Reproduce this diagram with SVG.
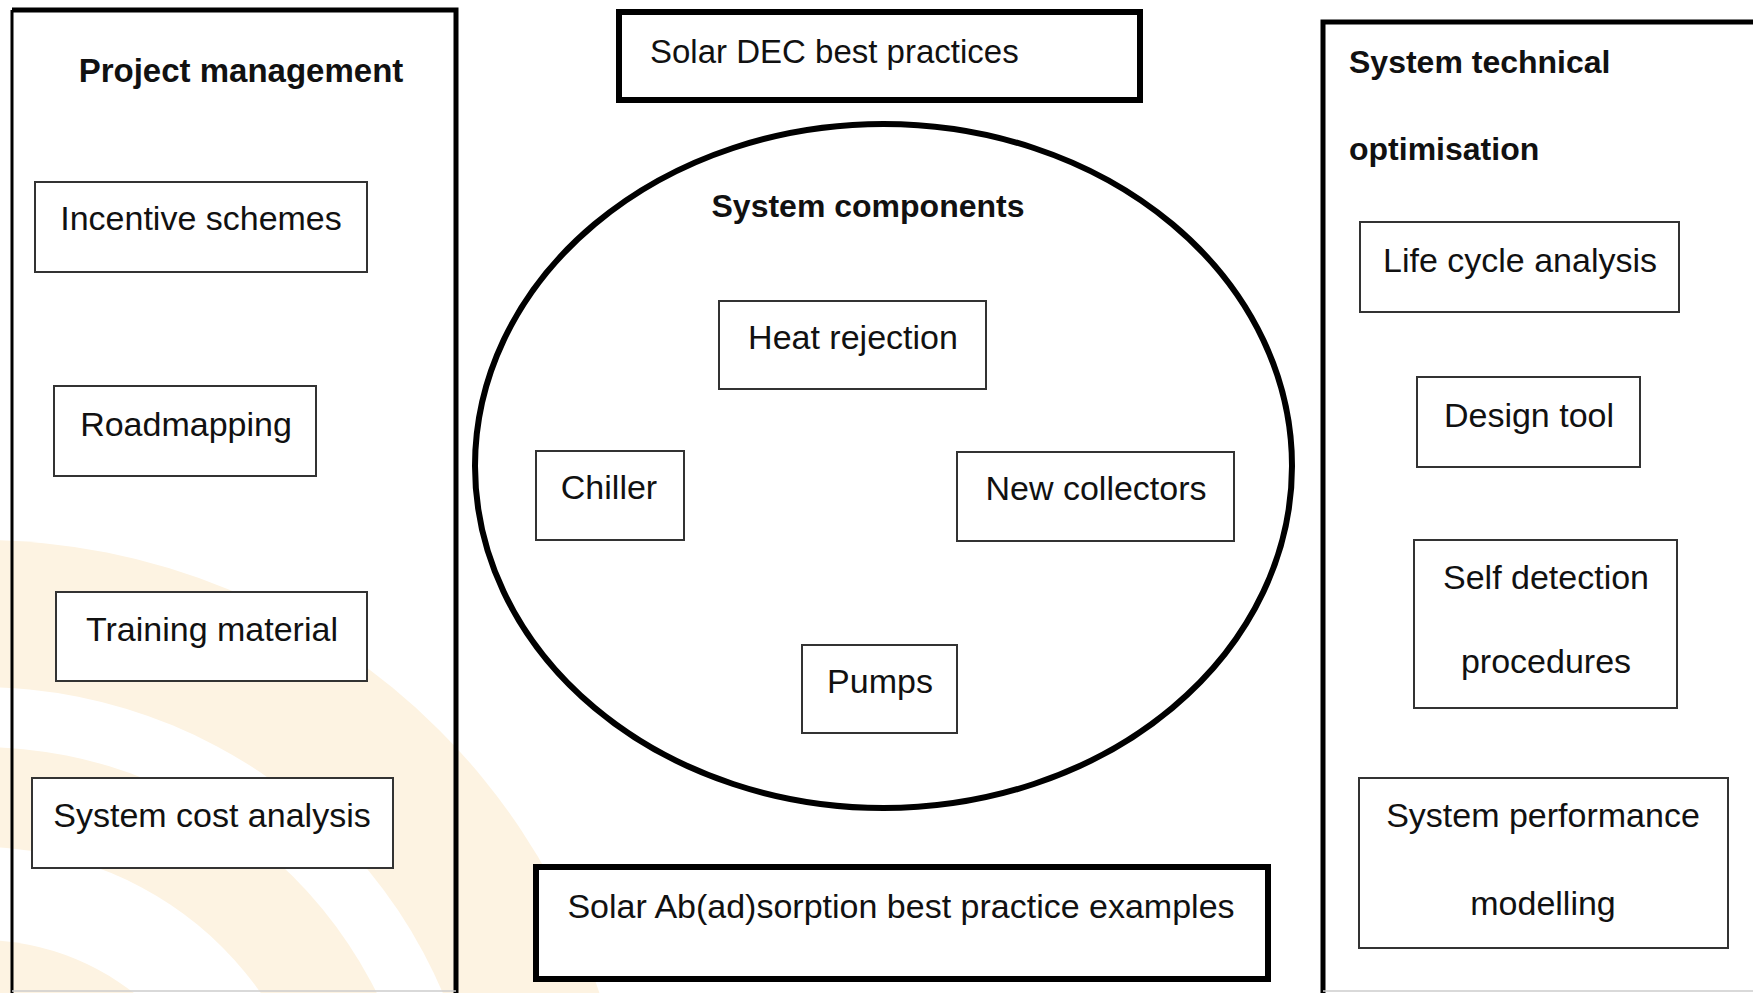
<svg xmlns="http://www.w3.org/2000/svg" width="1753" height="993" viewBox="0 0 1753 993">
  <style>
    .t { font-family: "Liberation Sans", Arial, sans-serif; font-size: 34px; fill: #111; }
    .c { text-anchor: middle; }
    .b { font-weight: bold; font-size: 32px; }
    .box { fill: #fff; stroke: #333; stroke-width: 2; }
    .thick { fill: #fff; stroke: #000; stroke-width: 6; }
    .panel { fill: none; stroke: #000; stroke-width: 5; }
    .wm { fill: #FDF3E2; }
    .wmw { fill: #fff; }
  </style>
  <rect x="0" y="0" width="1753" height="993" fill="#fff"/>
  <g id="watermark">
    <circle class="wm" cx="-20" cy="1190" r="650"/>
    <circle class="wmw" cx="-20" cy="1190" r="503"/>
    <circle class="wm" cx="-20" cy="1190" r="443"/>
    <circle class="wmw" cx="-20" cy="1190" r="343"/>
    <circle class="wm" cx="-20" cy="1190" r="250"/>
  </g>

  <g id="project-management">
    <path class="panel" d="M456 993 V10 H12"/>
    <line x1="12" y1="10" x2="12" y2="993" stroke="#000" stroke-width="3"/>
    <line x1="12" y1="991" x2="456" y2="991" stroke="#ccc" stroke-width="1.5"/>
    <text class="t b c" x="241" y="82" style="font-size:33px">Project management</text>
  </g>
  <g id="incentive-schemes">
    <rect class="box" x="35" y="182" width="332" height="90"/>
    <text class="t c" x="201" y="230">Incentive schemes</text>
  </g>
  <g id="roadmapping">
    <rect class="box" x="54" y="386" width="262" height="90"/>
    <text class="t c" x="186" y="436">Roadmapping</text>
  </g>
  <g id="training-material">
    <rect class="box" x="56" y="592" width="311" height="89"/>
    <text class="t c" x="212" y="641">Training material</text>
  </g>
  <g id="system-cost-analysis">
    <rect class="box" x="32" y="778" width="361" height="90"/>
    <text class="t c" x="212" y="827">System cost analysis</text>
  </g>

  <g id="solar-dec">
    <rect class="thick" x="619" y="12" width="521" height="88"/>
    <text class="t" x="650" y="63" style="font-size:33px">Solar DEC best practices</text>
  </g>

  <g id="system-components">
    <ellipse cx="883.5" cy="466" rx="408.5" ry="342" fill="#fff" stroke="#000" stroke-width="6"/>
    <text class="t b c" x="868" y="217">System components</text>
  </g>
  <g id="heat-rejection">
    <rect class="box" x="719" y="301" width="267" height="88"/>
    <text class="t c" x="853" y="349">Heat rejection</text>
  </g>
  <g id="chiller">
    <rect class="box" x="536" y="451" width="148" height="89"/>
    <text class="t c" x="609" y="499">Chiller</text>
  </g>
  <g id="new-collectors">
    <rect class="box" x="957" y="452" width="277" height="89"/>
    <text class="t c" x="1096" y="500">New collectors</text>
  </g>
  <g id="pumps">
    <rect class="box" x="802" y="645" width="155" height="88"/>
    <text class="t c" x="880" y="693">Pumps</text>
  </g>

  <g id="solar-absorption">
    <rect class="thick" x="536" y="867" width="732" height="112"/>
    <text class="t c" x="901" y="918">Solar Ab(ad)sorption best practice examples</text>
  </g>

  <g id="system-technical-optimisation">
    <path class="panel" d="M1323 993 V22 H1760"/>
    <line x1="1323" y1="991" x2="1753" y2="991" stroke="#ccc" stroke-width="1.5"/>
    <text class="t b" x="1349" y="73">System technical</text>
    <text class="t b" x="1349" y="160">optimisation</text>
  </g>
  <g id="life-cycle-analysis">
    <rect class="box" x="1360" y="222" width="319" height="90"/>
    <text class="t c" x="1520" y="272">Life cycle analysis</text>
  </g>
  <g id="design-tool">
    <rect class="box" x="1417" y="377" width="223" height="90"/>
    <text class="t c" x="1529" y="427">Design tool</text>
  </g>
  <g id="self-detection">
    <rect class="box" x="1414" y="540" width="263" height="168"/>
    <text class="t c" x="1546" y="589">Self detection</text>
    <text class="t c" x="1546" y="673">procedures</text>
  </g>
  <g id="system-performance">
    <rect class="box" x="1359" y="778" width="369" height="170"/>
    <text class="t c" x="1543" y="827">System performance</text>
    <text class="t c" x="1543" y="915">modelling</text>
  </g>

  <g id="connectors"></g>
</svg>
